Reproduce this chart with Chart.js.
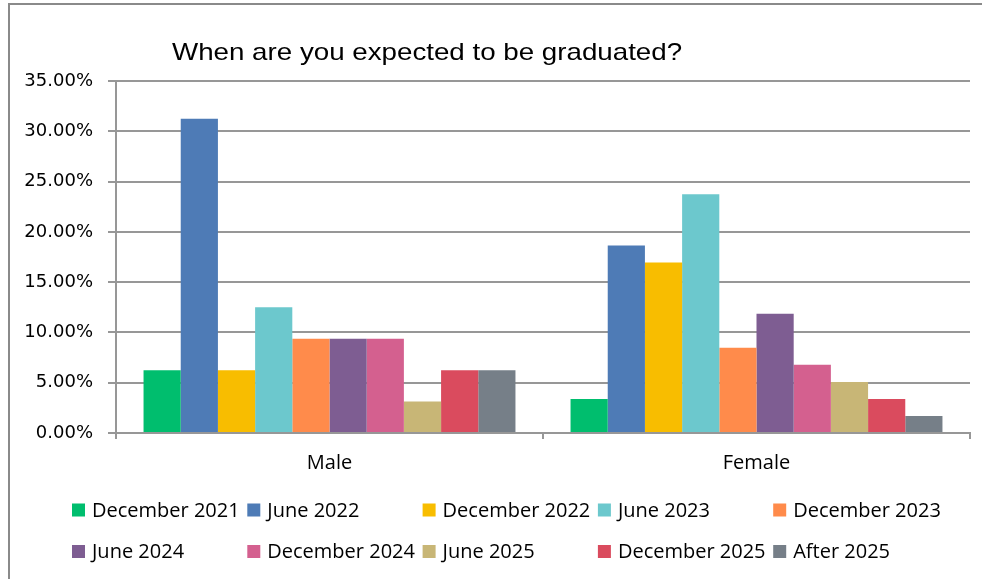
<!DOCTYPE html>
<html>
<head>
<meta charset="utf-8">
<script src="https://cdn.jsdelivr.net/npm/chart.js@4.4.1/dist/chart.umd.min.js"></script>
<style>
  html, body { margin: 0; padding: 0; background: #fff; overflow: hidden; }
  #wrap { position: relative; width: 983px; height: 579px; }
</style>
</head>
<body>
<div id="wrap"><canvas id="chart"></canvas></div>
<script>
// Survey answers by gender, as percentages of respondents
const titleText = 'When are you expected to be graduated?';
const groups = ['Male', 'Female'];
const periods = [
  'December 2021', 'June 2022', 'December 2022', 'June 2023', 'December 2023',
  'June 2024', 'December 2024', 'June 2025', 'December 2025', 'After 2025'
];
const maleShare   = [6.25, 31.25, 6.25, 12.5, 9.375, 9.375, 9.375, 3.125, 6.25, 6.25];
const femaleShare = [3.39, 18.64, 16.95, 23.73, 8.47, 11.86, 6.78, 5.08, 3.39, 1.69];
const periodColors = [
  '#00BE6E', '#4E7BB6', '#F8BD00', '#6CC8CD', '#FF8B4B',
  '#7E5D92', '#D4608F', '#C8B676', '#DA4B5E', '#767F88'
];
const yTicks = { min: 0, max: 35, step: 5 };

const gridColor = '#979797';

// Frame, title and a two-row grid legend drawn on the canvas
const decorPlugin = {
  id: 'decor',
  beforeDraw(chart) {
    const ctx = chart.ctx;
    ctx.save();
    ctx.fillStyle = '#fff';
    ctx.fillRect(0, 0, chart.width, chart.height);
    ctx.strokeStyle = '#8a8a8a';
    ctx.lineWidth = 2;
    ctx.beginPath();
    ctx.moveTo(9, chart.height + 2);
    ctx.lineTo(9, 4);
    ctx.lineTo(982, 4);
    ctx.stroke();
    ctx.restore();
  },
  afterDraw(chart) {
    const ctx = chart.ctx;
    ctx.save();
    // title (horizontally widened Arial-style face)
    ctx.fillStyle = '#000';
    ctx.font = '24px "Liberation Sans", Arial, sans-serif';
    ctx.textBaseline = 'alphabetic';
    ctx.textAlign = 'left';
    ctx.translate(172, 60);
    ctx.scale(1.155, 1);
    ctx.fillText(titleText, 0, 0);
    ctx.restore();

    // legend
    ctx.save();
    const startX = 72, colStep = 175.3, rowsY = [510, 551.5], box = 13, perRow = 5;
    ctx.font = '20px "Open Sans", sans-serif';
    ctx.textBaseline = 'middle';
    ctx.textAlign = 'left';
    chart.data.datasets.forEach((ds, i) => {
      const col = i % perRow, row = Math.floor(i / perRow);
      const x = startX + col * colStep;
      const y = rowsY[row];
      ctx.fillStyle = ds.backgroundColor;
      ctx.fillRect(x, y - box / 2, box, box);
      ctx.fillStyle = '#000';
      ctx.fillText(ds.label, x + 20, y + 1);
    });
    ctx.restore();
  }
};

const datasets = periods.map((p, i) => ({
  label: p,
  data: [maleShare[i], femaleShare[i]],
  backgroundColor: periodColors[i],
  borderWidth: 0,
  categoryPercentage: 0.871,
  barPercentage: 1.0
}));

new Chart(document.getElementById('chart'), {
  type: 'bar',
  data: { labels: groups, datasets },
  plugins: [decorPlugin],
  options: {
    responsive: true,
    maintainAspectRatio: false,
    animation: false,
    layout: { padding: { left: 0, top: 81, right: 13, bottom: 106 } },
    plugins: {
      legend: { display: false },
      title: { display: false },
      tooltip: { enabled: false }
    },
    scales: {
      x: {
        grid: {
          display: true,
          drawOnChartArea: false,
          drawTicks: true,
          tickLength: 6,
          color: gridColor,
          lineWidth: 2,
          offset: true
        },
        border: { display: true, color: gridColor, width: 2 },
        ticks: {
          color: '#000',
          font: { family: '"Open Sans", sans-serif', size: 20 },
          padding: 12
        },
        afterFit(scale) { scale.height = 40; }
      },
      y: {
        min: yTicks.min,
        max: yTicks.max,
        grid: {
          color: gridColor,
          lineWidth: 2,
          drawTicks: true,
          tickLength: 8
        },
        border: { display: true, color: gridColor, width: 2 },
        ticks: {
          stepSize: yTicks.step,
          color: '#000',
          font: { family: '"DejaVu Sans", sans-serif', size: 18, lineHeight: 1.0 },
          padding: 15,
          callback: v => v.toFixed(2) + '%'
        },
        afterFit(scale) { scale.width = 116; }
      }
    }
  }
});
</script>
</body>
</html>
